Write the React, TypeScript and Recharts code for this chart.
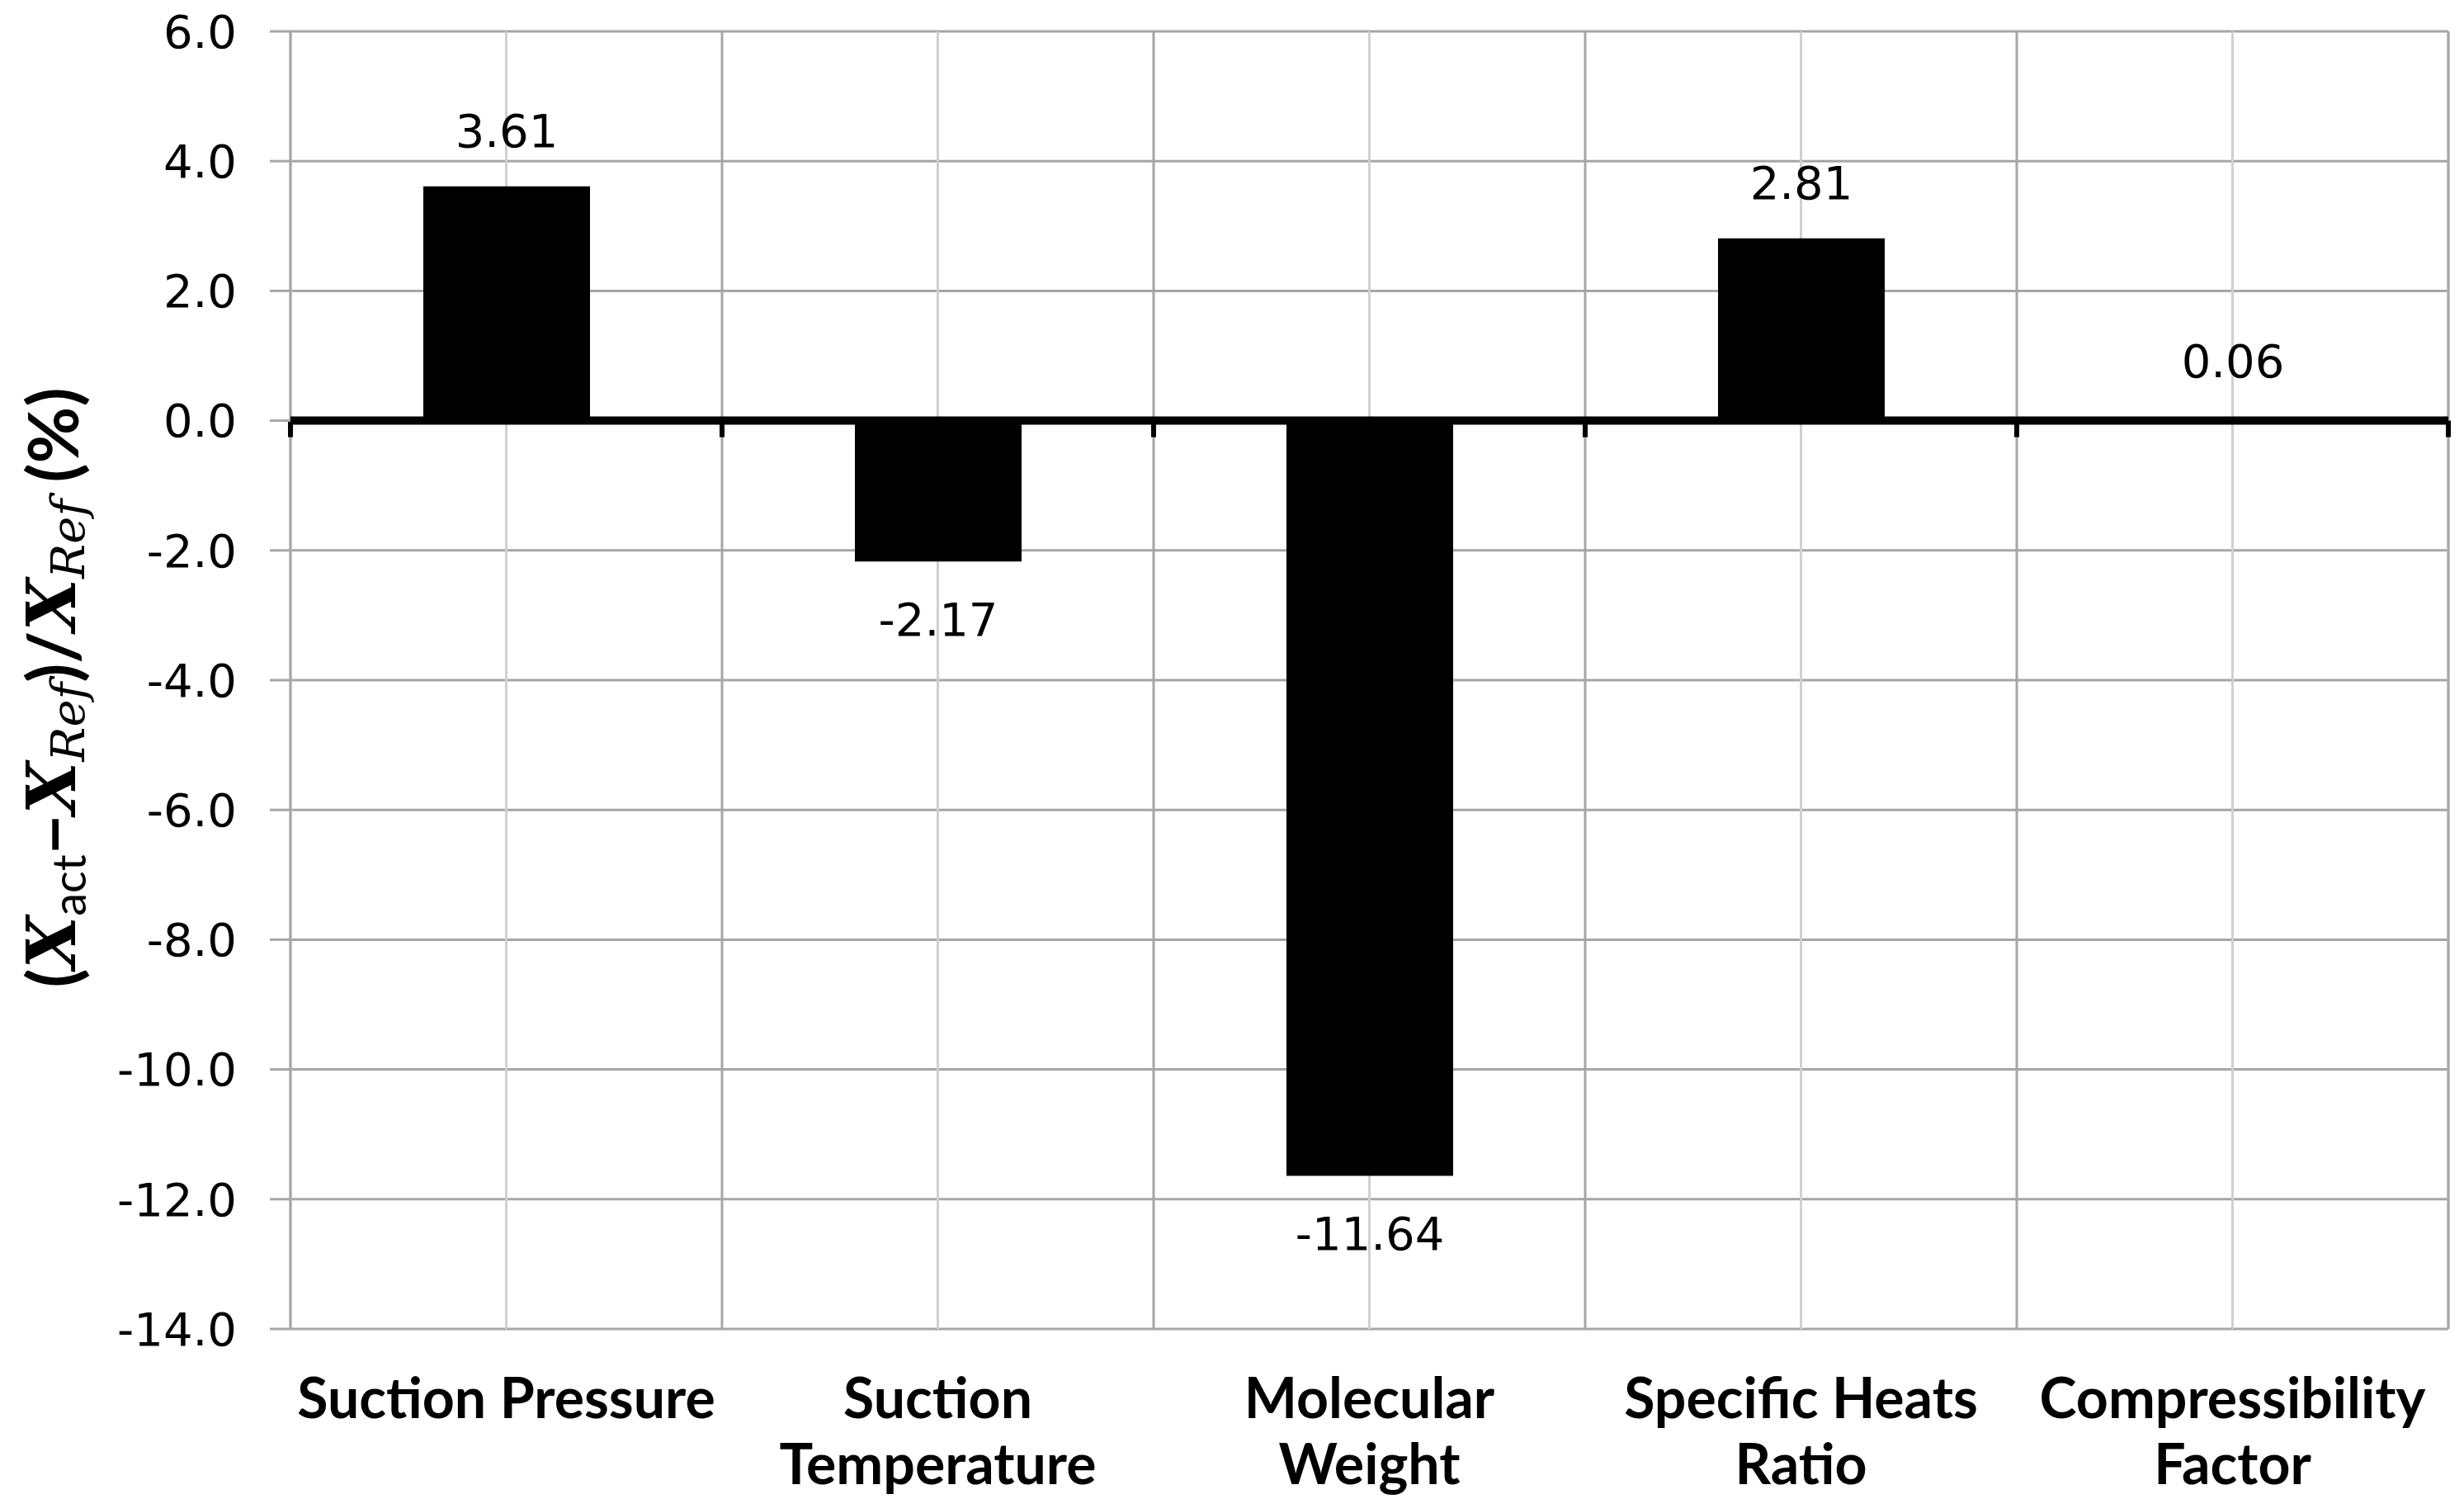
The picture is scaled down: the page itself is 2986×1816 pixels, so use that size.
import React from 'react'
import {
  BarChart,
  Bar,
  XAxis,
  YAxis,
  CartesianGrid,
  ReferenceLine,
  LabelList
} from 'recharts'

const categories = [
  'Suction Pressure',
  'Suction\nTemperature',
  'Molecular\nWeight',
  'Specific Heats\nRatio',
  'Compressibility\nFactor'
]
const deviations = [3.61, -2.17, -11.64, 2.81, 0.06]
const yTicks = [-14, -12, -10, -8, -6, -4, -2, 0, 2, 4, 6]

const data = categories.map((name, i) => ({ name, value: deviations[i] }))

const LABEL_FONT = "Lato, 'Open Sans', sans-serif"
const NUM_FONT = "'DejaVu Sans', sans-serif"
const GRID = '#a6a6a6'
const GRID_LIGHT = '#d0d0d0'

// x positions of the category edges, from the plot offset
const categoryEdges = (left: number, width: number) =>
  Array.from({ length: categories.length + 1 }, (_, k) => left + (k * width) / categories.length)

function CategoryTick({ x, y, payload }: any) {
  const lines = String(payload.value).split('\n')
  return (
    <text x={x} y={y} textAnchor="middle" fontFamily={LABEL_FONT} fontWeight="bold" fontSize={68} fill="#000">
      {lines.map((line, i) => (
        <tspan key={i} x={x} dy={i === 0 ? 108 : 80}>
          {line}
        </tspan>
      ))}
    </text>
  )
}

function renderValueLabel(props: any) {
  const { x, y, width, height, value } = props
  const v = Number(value)
  const top = Math.min(y, y + height)
  const bottom = Math.max(y, y + height)
  const ty = v >= 0 ? top - 67 : bottom + 70
  return (
    <text
      x={x + width / 2}
      y={ty}
      textAnchor="middle"
      dominantBaseline="central"
      fontFamily={NUM_FONT}
      fontSize={56}
      fill="#000"
    >
      {v.toFixed(2)}
    </text>
  )
}

// zero line with Excel-style tick marks hanging below it at the category edges
function ZeroAxis(props: any) {
  const { x1, x2, y1 } = props
  const edges = categoryEdges(Math.min(x1, x2), Math.abs(x2 - x1))
  return (
    <g>
      <line x1={x1} x2={x2} y1={y1} y2={y1} stroke="#000" strokeWidth={10} />
      {edges.map((ex, i) => (
        <line key={i} x1={ex} x2={ex} y1={y1} y2={y1 + 20} stroke="#000" strokeWidth={6} />
      ))}
    </g>
  )
}

function YTitle({ viewBox }: any) {
  const cx = viewBox.x + 54
  const cy = viewBox.y + viewBox.height / 2 + 9
  const serif = "'DejaVu Serif', 'Liberation Serif', serif"
  return (
    <text
      x={cx}
      y={cy}
      transform={`rotate(-90, ${cx}, ${cy})`}
      textAnchor="middle"
      dominantBaseline="central"
      fontFamily={LABEL_FONT}
      fontWeight="bold"
      fontSize={84}
      fill="#000"
    >
      <tspan>(</tspan>
      <tspan fontFamily={serif} fontStyle="italic" fontSize={82}>X</tspan>
      <tspan fontSize={56} fontWeight="normal" dy={20}>act</tspan>
      <tspan dy={-20}>−</tspan>
      <tspan fontFamily={serif} fontStyle="italic" fontSize={82}>X</tspan>
      <tspan fontFamily={serif} fontStyle="italic" fontSize={56} fontWeight="normal" dy={20}>Ref</tspan>
      <tspan dy={-20}>)/</tspan>
      <tspan fontFamily={serif} fontStyle="italic" fontSize={82}>X</tspan>
      <tspan fontFamily={serif} fontStyle="italic" fontSize={56} fontWeight="normal" dy={20}>Ref</tspan>
      <tspan dy={-20}> (%)</tspan>
    </text>
  )
}

export default function App() {
  return (
    <div style={{ width: 2970, height: 1808, background: '#fff' }}>
      <BarChart
        width={2970}
        height={1808}
        data={data}
        margin={{ top: 30, right: 11, left: 0, bottom: 8 }}
        barSize={202}
      >
        <CartesianGrid vertical={false} stroke={GRID} strokeWidth={3} />
        <CartesianGrid horizontal={false} stroke={GRID_LIGHT} strokeWidth={3} />
        <CartesianGrid
          horizontal={false}
          stroke={GRID}
          strokeWidth={3}
          verticalCoordinatesGenerator={({ offset }: any) => categoryEdges(offset.left, offset.width)}
        />
        <XAxis
          dataKey="name"
          height={198}
          axisLine={false}
          tickLine={false}
          tickSize={0}
          tickMargin={0}
          interval={0}
          tick={<CategoryTick />}
        />
        <YAxis
          domain={[-14, 6]}
          ticks={yTicks}
          interval={0}
          width={344}
          axisLine={false}
          tickLine={{ stroke: GRID, strokeWidth: 3 }}
          tickSize={25}
          tickMargin={40}
          tickFormatter={(v: number) => v.toFixed(1)}
          tick={{ fontSize: 56, fill: '#000', fontFamily: NUM_FONT }}
          label={<YTitle />}
        />
        <Bar dataKey="value" fill="#000" isAnimationActive={false}>
          <LabelList dataKey="value" content={renderValueLabel} />
        </Bar>
        <ReferenceLine y={0} shape={ZeroAxis} />
      </BarChart>
    </div>
  )
}
